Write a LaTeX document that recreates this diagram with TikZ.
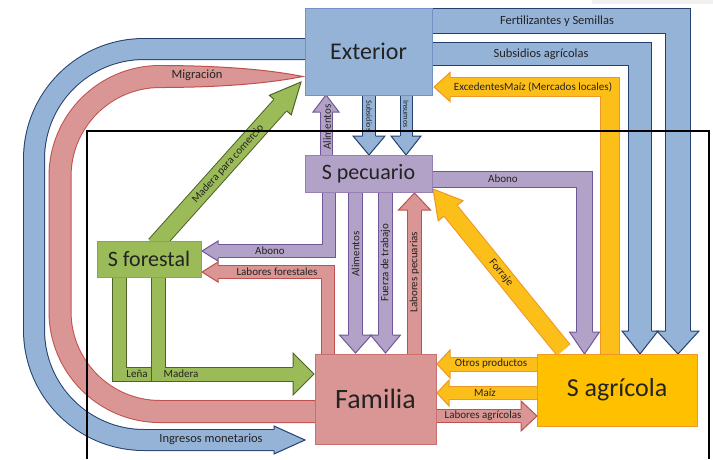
\documentclass[tikz,border=0pt]{standalone}
\usepackage{fontspec}
\setmainfont{Carlito}

\definecolor{bluefl}{RGB}{149,179,215}
\definecolor{bluedk}{RGB}{36,64,110}
\definecolor{bluedr}{RGB}{112,146,196}
\definecolor{purfl}{RGB}{179,162,199}
\definecolor{purdk}{RGB}{112,88,152}
\definecolor{purdr}{RGB}{150,128,182}
\definecolor{redfl}{RGB}{217,150,148}
\definecolor{reddk}{RGB}{192,80,77}
\definecolor{reddr}{RGB}{200,112,110}
\definecolor{grnfl}{RGB}{155,187,89}
\definecolor{grndk}{RGB}{79,98,40}
\definecolor{grndr}{RGB}{135,168,75}
\definecolor{orgfl}{RGB}{252,190,24}
\definecolor{orgdk}{RGB}{238,150,40}
\definecolor{orgbx}{RGB}{255,192,0}
\definecolor{txt}{RGB}{35,35,35}

\tikzset{
  box/.style={draw, line width=1pt, inner sep=0pt, text=txt},
  band/.style={line width=1pt},
  blueband/.style={band, draw=bluedk, double=bluefl},
  purband/.style={band, draw=purdk, double=purfl},
  redband/.style={band, draw=reddk, double=redfl},
  grnband/.style={band, draw=grndk, double=grnfl},
  orgband/.style={band, draw=orgdk, double=orgfl},
  head/.style={line width=1pt, line join=miter},
  bluehead/.style={head, draw=bluedk, fill=bluefl},
  purhead/.style={head, draw=purdk, fill=purfl},
  redhead/.style={head, draw=reddk, fill=redfl},
  grnhead/.style={head, draw=grndk, fill=grnfl},
  orghead/.style={head, draw=orgdk, fill=orgfl},
  lbl/.style={inner sep=0pt, text=txt, font=\fontsize{11}{11}\selectfont},
  lblb/.style={lbl, font=\fontsize{12.5}{12.5}\selectfont},
  lbls/.style={lbl, font=\fontsize{8}{8}\selectfont}
}

\begin{document}
\begin{tikzpicture}[x=1pt, y=-1pt]
\useasboundingbox (0,0) rectangle (713,459);
\fill[gray!12] (592,0) rectangle (713,4);

% big loops on the left
\draw[blueband, double distance=20pt, rounded corners=110pt] (320,49) -- (34,49) -- (34,440) -- (274,440);
\filldraw[bluehead] (274,429.5) -- (274,426) -- (305,440) -- (274,454) -- (274,450.5);
\draw[redband, double distance=21pt, rounded corners=100pt] (325,411.5) -- (60,411.5) -- (60,76.5) -- (165,76.5);
\filldraw[redhead] (165,65.5) .. controls (240,66) and (280,72) .. (303,76.5) .. controls (280,81) and (240,87) .. (165,87.5);

% exterior -> S agricola
\draw[blueband, double distance=24pt] (420,21) -- (678,21) -- (678,331);
\filldraw[bluehead] (665.5,331) -- (657,331) -- (678,354) -- (699,331) -- (690.5,331);
\draw[blueband, double distance=22pt] (420,54) -- (640,54) -- (640,331);
\filldraw[bluehead] (628.5,331) -- (622,331) -- (640,354) -- (658,331) -- (651.5,331);
\draw[orgband, double distance=18pt] (610,360) -- (610,87) -- (450,87);
\filldraw[orghead] (450,77.5) -- (450,72.5) -- (434,87) -- (450,101.5) -- (450,96.5);

% exterior <-> S pecuario
\draw[blueband, double distance=12pt] (369,90) -- (369,136);
\filldraw[bluehead] (362.5,136) -- (353,136) -- (369,155) -- (385,136) -- (375.5,136);
\draw[blueband, double distance=11pt] (406,90) -- (406,136);
\filldraw[bluehead] (400,136) -- (391,136) -- (406,155) -- (421,136) -- (412,136);
\draw[purband, double distance=11pt] (326,160) -- (326,112);
\filldraw[purhead] (320,112) -- (313,112) -- (326,95) -- (339,112) -- (332,112);

% S pecuario
\draw[purband, double distance=15pt] (420,179) -- (584.5,179) -- (584.5,332);
\filldraw[purhead] (576.5,332) -- (569.5,332) -- (584.5,354) -- (599.5,332) -- (592.5,332);
\draw[purband, double distance=12pt] (328.5,185) -- (328.5,251) -- (218,251);
\filldraw[purhead] (218,244) -- (218,241) -- (202,251) -- (218,261) -- (218,258);
\foreach \x/\h in {355.5/16, 385.5/15} {
  \draw[purband, double distance=13pt] (\x,185) -- (\x,335);
  \filldraw[purhead] (\x-7,335) -- (\x-\h,335) -- (\x,353) -- (\x+\h,335) -- (\x+7,335);
}

% familia
\draw[redband, double distance=12pt] (327.5,360) -- (327.5,272) -- (218,272);
\filldraw[redhead] (218,265) -- (218,262) -- (202,272) -- (218,282) -- (218,279);
\draw[redband, double distance=13pt] (414.5,360) -- (414.5,210);
\filldraw[redhead] (407.5,210) -- (398.5,210) -- (414.5,193) -- (430.5,210) -- (421.5,210);
\draw[redband, double distance=12pt] (430,416) -- (521,416);
\filldraw[redhead] (521,409.5) -- (521,401) -- (537,416) -- (521,431) -- (521,422.5);

% S agricola
\draw[orgband, double distance=16pt] (563.5,350) -- (450.6,210.8);
\filldraw[orghead] (457.2,205.4) -- (463,200.7) -- (433,189) -- (438.2,220.9) -- (444,216.2);
\draw[orgband, double distance=13pt] (545,364) -- (450,364);
\filldraw[orghead] (450,357) -- (450,350) -- (437,364) -- (450,378) -- (450,371);
\draw[orgband, double distance=12pt] (545,393) -- (449,393);
\filldraw[orghead] (449,386.5) -- (449,380) -- (437,393) -- (449,406) -- (449,399.5);

% S forestal
\draw[grnband, double distance=16pt] (155,245) -- (280.3,105.1);
\filldraw[grnhead] (286.6,110.8) -- (291.2,114.9) -- (301,82) -- (269.4,95.3) -- (274,99.4);
\draw[grnband, double distance=13pt] (119.5,270) -- (119.5,374) -- (152,374);
\draw[grnband, double distance=13pt] (158.5,270) -- (158.5,374) -- (293,374);
\filldraw[grnhead] (293,367) -- (293,353) -- (314,374) -- (293,395) -- (293,381);

% boxes
\node[box, draw=bluedr, fill=bluefl, minimum width=127pt, minimum height=87pt, font=\fontsize{24}{24}\selectfont] (exterior) at (368.5,51.5) {Exterior};
\node[box, draw=purdr, fill=purfl, minimum width=127pt, minimum height=37pt, font=\fontsize{22}{22}\selectfont] (pecuario) at (368.5,173.5) {S pecuario};
\node[box, draw=grndr, fill=grnfl, minimum width=104pt, minimum height=36pt, font=\fontsize{22}{22}\selectfont] (forestal) at (149,259) {S forestal};
\node[box, draw=reddr, fill=redfl, minimum width=121pt, minimum height=90pt, font=\fontsize{28}{28}\selectfont] (familia) at (375.5,399) {Familia};
\node[box, draw=orgdk, fill=orgbx, minimum width=160pt, minimum height=72pt, font=\fontsize{26}{26}\selectfont] (agricola) at (617,390) {S agrícola};

% labels
\node[lblb] (tMig) at (197,75) {Migración};
\node[lblb] (tIng) at (211,439) {Ingresos monetarios};
\node[lblb] (tFert) at (557,21) {Fertilizantes y Semillas};
\node[lblb] (tSubA) at (541,54) {Subsidios agrícolas};
\node[lbl] (tExc) at (533,87) {ExcedentesMaíz (Mercados locales)};
\node[lbl] (tAbA) at (503,178.5) {Abono};
\node[lbl] (tAbF) at (270,250.5) {Abono};
\node[lbl] (tLabF) at (277,271.5) {Labores forestales};
\node[lbl, rotate=48] (tMadC) at (228,164) {Madera para comercio};
\node[lbl, rotate=90] (tAliE) at (327,127) {Alimentos};
\node[lbls, rotate=-90] (tSub) at (369,116) {Subsidios};
\node[lbls, rotate=-90] (tIns) at (406,114) {Insumos};
\node[lbl, rotate=90] (tAliF) at (355.5,254) {Alimentos};
\node[lbl, rotate=90] (tFue) at (385.5,263) {Fuerza de trabajo};
\node[lbl, rotate=90] (tLabP) at (414.5,272) {Labores pecuarias};
\node[lbl, rotate=-51] (tFor) at (501,273) {Forraje};
\node[lbl] (tOtr) at (491,363.5) {Otros productos};
\node[lbl] (tMaiz) at (485,393) {Maíz};
\node[lbl] (tLabA) at (483,416) {Labores agrícolas};
\node[lbl] (tLena) at (137,374) {Leña};
\node[lbl] (tMad) at (181,374) {Madera};

% frame
\draw[line width=1.5pt] (87,459) -- (87,131) -- (709,131) -- (709,459);
\end{tikzpicture}
\end{document}
